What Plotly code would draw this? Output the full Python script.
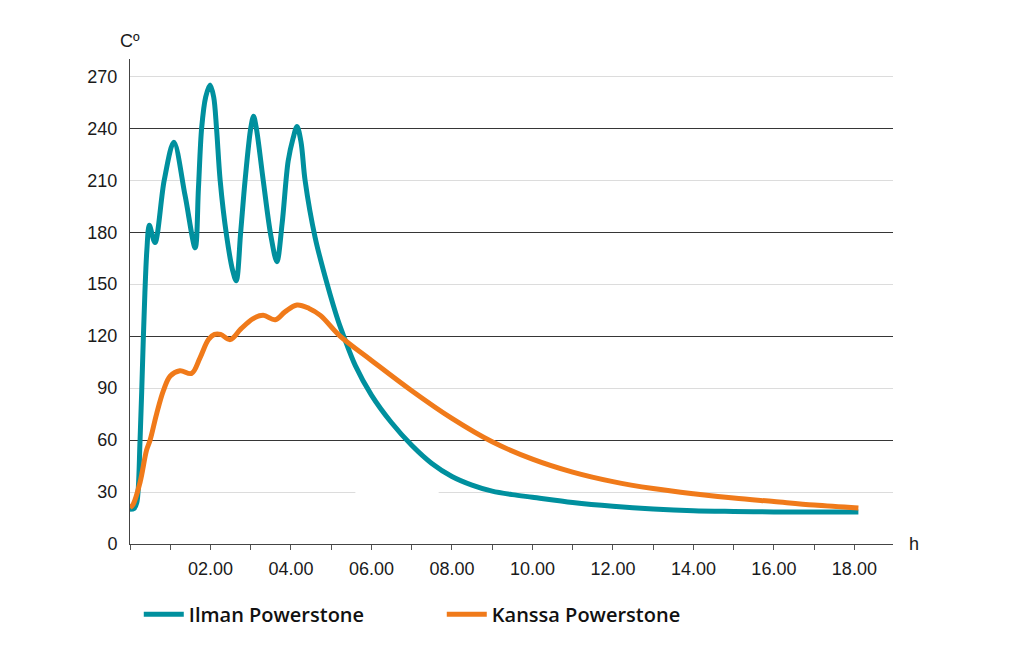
import plotly.graph_objects as go

# ---- data ----
ilman_t = [0.00, 0.10, 0.17, 0.25, 0.33, 0.37, 0.42, 0.48, 0.62, 0.85, 1.09, 1.37, 1.62, 1.70,
           1.78, 1.88, 1.99, 2.08, 2.15, 2.24, 2.40, 2.55, 2.64, 2.75, 2.86, 3.00, 3.07, 3.14,
           3.31, 3.50, 3.65, 3.78, 3.93, 4.05, 4.15, 4.25, 4.35, 4.60, 4.90, 5.17, 5.31, 5.60,
           6.00, 6.50, 7.00, 7.50, 8.00, 8.50, 9.00, 9.50, 10.0, 11.0, 12.0, 13.0, 14.0,
           15.0, 16.0, 17.0, 18.1]
ilman_v = [20, 20.5, 24, 60, 118, 145, 170, 184, 174, 210, 232, 201, 171, 205,
           240, 258, 265, 258, 240, 210, 178, 158, 152, 180, 210, 240, 247, 240,
           210, 178, 163, 185, 221, 234, 241, 232, 210, 177, 150, 129, 120, 103,
           86, 70, 57, 46.5, 39, 34, 30.5, 28.5, 27, 24, 21.8, 20.2, 19.2,
           18.8, 18.5, 18.5, 18.5]

kanssa_t = [0.00, 0.08, 0.25, 0.41, 0.50, 0.66, 0.83, 1.00, 1.24, 1.53, 1.74, 1.95, 2.10, 2.25,
            2.49, 2.75, 3.05, 3.31, 3.61, 3.85, 4.15, 4.45, 4.73, 5.22, 6.00, 7.00, 8.00, 9.00,
            10.0, 11.0, 12.0, 13.0, 14.0, 15.0, 16.0, 17.0, 18.1]
kanssa_v = [21, 23, 35.6, 54, 60, 75, 88.5, 97, 100, 98.5, 107.5, 118, 121, 121,
            118, 124, 130, 132, 129.5, 134, 138, 136, 132, 120, 106, 88.5, 72.5, 59,
            49, 41.5, 36, 32, 29, 26.5, 24.5, 22.5, 20.8]

x_tick_vals = list(range(0, 19))
x_tick_text = ["", "", "02.00", "", "04.00", "", "06.00", "", "08.00", "", "10.00", "",
               "12.00", "", "14.00", "", "16.00", "", "18.00"]
y_tick_vals = [0, 30, 60, 90, 120, 150, 180, 210, 240, 270]
y_major_vals = [60, 120, 180, 240]

TEAL = "#00909E"
ORANGE = "#F07A1A"

fig = go.Figure()
fig.add_trace(go.Scatter(x=ilman_t, y=ilman_v, mode="lines", name="Ilman Powerstone",
                         line=dict(color=TEAL, width=5, shape="spline", smoothing=0.9)))
fig.add_trace(go.Scatter(x=kanssa_t, y=kanssa_v, mode="lines", name="Kanssa Powerstone",
                         line=dict(color=ORANGE, width=5, shape="spline", smoothing=1.0)))
# invisible trace on overlay axis carrying the darker gridlines
fig.add_trace(go.Scatter(x=[0], y=[0], yaxis="y2", mode="markers", marker=dict(opacity=0),
                         showlegend=False, hoverinfo="skip"))

tickfont = dict(family="Liberation Sans, Arial, sans-serif", size=18, color="#1a1a1a")

fig.update_layout(
    width=1010, height=650,
    margin=dict(l=122, r=125, t=51, b=114),
    paper_bgcolor="white", plot_bgcolor="white",
    xaxis=dict(range=[0, 18.96], tickmode="array", tickvals=x_tick_vals, ticktext=x_tick_text,
               ticks="outside", ticklen=5, tickcolor="#555", tickwidth=1,
               showline=True, linecolor="#444", linewidth=1, showgrid=False, zeroline=False,
               tickfont=tickfont, ticklabelstandoff=3),
    yaxis=dict(range=[0, 280], tickmode="array", tickvals=y_tick_vals,
               showgrid=True, gridcolor="#dcdcdc", gridwidth=1,
               showline=True, linecolor="#444", linewidth=1, zeroline=False,
               ticks="", tickfont=tickfont, ticklabelstandoff=8),
    yaxis2=dict(range=[0, 280], overlaying="y", tickmode="array", tickvals=y_major_vals,
                showgrid=True, gridcolor="#363636", gridwidth=1, showticklabels=False,
                zeroline=False, showline=False, ticks=""),
    legend=dict(orientation="h", x=0.0115, xanchor="left", y=-0.145, yanchor="middle",
                font=dict(family="Open Sans, Noto Sans, sans-serif", size=20, color="#111", weight=600),
                entrywidth=248, entrywidthmode="pixels", itemwidth=40, bgcolor="rgba(0,0,0,0)"),
    showlegend=True,
    annotations=[
        dict(text="Cº", x=0, y=1.0, xref="paper", yref="paper", xanchor="center", yanchor="bottom",
             yshift=6, showarrow=False, font=dict(family="Liberation Sans, Arial, sans-serif", size=18, color="#1a1a1a")),
        dict(text="h", x=1.0, y=0, xref="paper", yref="paper", xanchor="left", yanchor="middle",
             xshift=14, showarrow=False, font=dict(family="Liberation Sans, Arial, sans-serif", size=18, color="#1a1a1a")),
    ],
    shapes=[
        dict(type="rect", xref="x", yref="y", x0=5.6, x1=7.67, y0=28, y1=32,
             fillcolor="white", line=dict(width=0), layer="between"),
    ],
)

fig.write_html("out.html")
